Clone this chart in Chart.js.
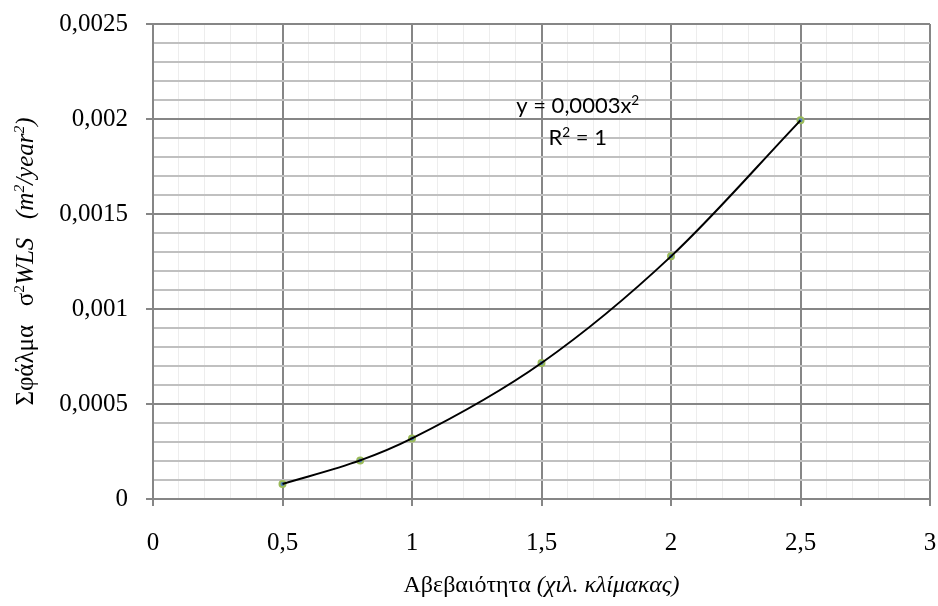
<!DOCTYPE html>
<html>
<head>
<meta charset="utf-8">
<script src="https://cdn.jsdelivr.net/npm/chart.js@4.4.1/dist/chart.umd.min.js"></script>
<style>
  html, body { margin: 0; padding: 0; background: #ffffff; }
  canvas { display: block; }
</style>
</head>
<body>
<canvas id="chart" width="938" height="606"></canvas>
<script>
// Measured points: uncertainty (scale thousandths) vs. WLS error variance
const uncertainty = [0.5, 0.8, 1, 1.5, 2, 2.5];
const errorWLS = [0.000079, 0.000203, 0.000319, 0.000716, 0.001277, 0.001993];

// Labelled ticks (every major step)
const xTickLabels = ['0', '0,5', '1', '1,5', '2', '2,5', '3'];
const yTickLabels = ['0', '0,0005', '0,001', '0,0015', '0,002', '0,0025'];

// Trendline caption
const equationLine = 'y = 0,0003x';
const rSquaredLine = ' = 1';

const X_MAJOR = 0.5, X_MINOR = 0.1;
const Y_MAJOR = 0.0005, Y_MINOR = 0.0001;

const SERIF = '"Liberation Serif", "Times New Roman", serif';
const SANS = 'Lato, "Open Sans", sans-serif';

function majorIndex(v, step) {
  const k = Math.round(v / step);
  return Math.abs(v - k * step) < step * 1e-6 ? k : -1;
}

// Measure a run of styled pieces; returns total width
function measureRuns(ctx, runs, size, family) {
  let w = 0;
  for (const r of runs) {
    const fs = r.sup ? size * 0.62 : size;
    ctx.font = (r.italic ? 'italic ' : '') + fs + 'px ' + family;
    r._w = ctx.measureText(r.text).width;
    w += r._w;
  }
  return w;
}
function drawRuns(ctx, runs, x, y, size, family) {
  let cx = x;
  for (const r of runs) {
    const fs = r.sup ? size * 0.62 : size;
    ctx.font = (r.italic ? 'italic ' : '') + fs + 'px ' + family;
    ctx.fillText(r.text, cx, r.sup ? y - size * 0.36 : y);
    cx += r._w;
  }
}

const titlesPlugin = {
  id: 'titles',
  afterDraw(chart) {
    const { ctx, chartArea, scales } = chart;
    ctx.save();
    ctx.fillStyle = '#000';
    ctx.textBaseline = 'alphabetic';
    ctx.textAlign = 'left';

    // X axis title
    const xRuns = [
      { text: 'Αβεβαιότητα ' },
      { text: '(χιλ. κλίμακας)', italic: true }
    ];
    const xw = measureRuns(ctx, xRuns, 24, SERIF);
    const xc = (chartArea.left + chartArea.right) / 2;
    drawRuns(ctx, xRuns, xc - xw / 2, 592, 24, SERIF);

    // Y axis title (rotated)
    const yRuns = [
      { text: 'Σφάλμα   σ' },
      { text: '2', sup: true },
      { text: 'WLS', italic: true },
      { text: '   (m', italic: true },
      { text: '2', sup: true, italic: true },
      { text: '/year', italic: true },
      { text: '2', sup: true, italic: true },
      { text: ')', italic: true }
    ];
    const yw = measureRuns(ctx, yRuns, 25, SERIF);
    const yc = (chartArea.top + chartArea.bottom) / 2;
    ctx.save();
    ctx.translate(33, yc);
    ctx.rotate(-Math.PI / 2);
    drawRuns(ctx, yRuns, -yw / 2, 0, 25, SERIF);
    ctx.restore();

    // Trendline equation, centred lines
    const eqX = scales.x.getPixelForValue(1.64);
    const l1 = [{ text: equationLine }, { text: '2', sup: true }];
    const l2 = [{ text: 'R' }, { text: '2', sup: true }, { text: rSquaredLine }];
    const w1 = measureRuns(ctx, l1, 22, SANS);
    drawRuns(ctx, l1, eqX - w1 / 2, scales.y.getPixelForValue(0.0020) - 6, 22, SANS);
    const w2 = measureRuns(ctx, l2, 22, SANS);
    drawRuns(ctx, l2, eqX - w2 / 2, scales.y.getPixelForValue(0.0020) + 26, 22, SANS);
    ctx.restore();
  }
};

const points = uncertainty.map((x, i) => ({ x, y: errorWLS[i] }));

new Chart(document.getElementById('chart'), {
  type: 'scatter',
  data: {
    datasets: [
      {
        // trendline through the measurements
        type: 'line',
        data: points,
        borderColor: '#000000',
        borderWidth: 2,
        pointRadius: 0,
        fill: false,
        cubicInterpolationMode: 'monotone'
      },
      {
        data: points,
        pointRadius: 3,
        pointBorderWidth: 2,
        pointBackgroundColor: '#4F81BD',
        pointBorderColor: '#9BBB59',
        showLine: false
      }
    ]
  },
  options: {
    responsive: false,
    animation: false,
    devicePixelRatio: 1,
    layout: { padding: { top: 24, right: 8, left: 0, bottom: 0 } },
    plugins: { legend: { display: false }, tooltip: { enabled: false } },
    scales: {
      x: {
        type: 'linear',
        min: 0,
        max: 3,
        afterFit(scale) {
          scale.height = 107;
          scale.paddingLeft = 0;
          scale.paddingRight = 0;
        },
        border: { color: '#868686', width: 2 },
        grid: {
          color: c => (c.tick && majorIndex(c.tick.value, X_MAJOR) >= 0) ? '#868686' : '#ededed',
          lineWidth: c => (c.tick && majorIndex(c.tick.value, X_MAJOR) >= 0) ? 2 : 1,
          tickColor: c => (c.tick && majorIndex(c.tick.value, X_MAJOR) >= 0) ? '#868686' : 'rgba(0,0,0,0)',
          tickWidth: 2,
          tickLength: 7
        },
        ticks: {
          stepSize: X_MINOR,
          autoSkip: false,
          maxRotation: 0,
          minRotation: 0,
          padding: 22,
          color: '#000',
          font: { family: SERIF, size: 25 },
          callback: v => { const k = majorIndex(v, X_MAJOR); return k >= 0 ? xTickLabels[k] : ''; }
        }
      },
      y: {
        type: 'linear',
        min: 0,
        max: 0.0025,
        afterFit(scale) {
          scale.width = 153;
          scale.paddingTop = 0;
          scale.paddingBottom = 0;
        },
        border: { color: '#868686', width: 2 },
        grid: {
          color: c => (c.tick && majorIndex(c.tick.value, Y_MAJOR) >= 0) ? '#868686' : '#c0c0c0',
          lineWidth: 2,
          tickColor: c => (c.tick && majorIndex(c.tick.value, Y_MAJOR) >= 0) ? '#868686' : 'rgba(0,0,0,0)',
          tickWidth: 2,
          tickLength: 7
        },
        ticks: {
          stepSize: Y_MINOR,
          autoSkip: false,
          padding: 18,
          color: '#000',
          font: { family: SERIF, size: 25 },
          callback: v => { const k = majorIndex(v, Y_MAJOR); return k >= 0 ? yTickLabels[k] : ''; }
        }
      }
    }
  },
  plugins: [titlesPlugin]
});
</script>
</body>
</html>
